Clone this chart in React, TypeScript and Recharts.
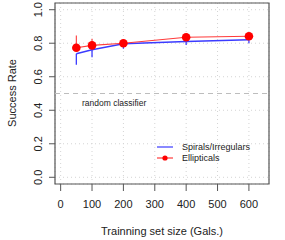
import React from 'react'
import {
  LineChart, Line, XAxis, YAxis, CartesianGrid, ErrorBar,
  ReferenceLine, ReferenceArea,
} from 'recharts'

// training set sizes (x) and success rates
const sizes = [50, 100, 200, 400, 600]
const spirals = [0.737, 0.761, 0.797, 0.81, 0.821]
const ellipticals = [0.773, 0.787, 0.8, 0.836, 0.842]
// error bars: blue shows below the line, red shows above the dots
const spiralsErrLow = [0.066, 0.044, 0.03, 0.02, 0.021]
const ellipticalsErrHigh = [0.073, 0.04, 0.025, 0.008, 0.006]

const xTicks = [0, 100, 200, 300, 400, 500, 600]
const yTicks = [0, 0.2, 0.4, 0.6, 0.8, 1.0]

const series = [
  { name: 'Spirals/Irregulars', color: '#3b3bff', dot: false },
  { name: 'Ellipticals', color: '#ff3b3b', dot: true },
]

const data = sizes.map((s, i) => ({
  size: s,
  spirals: spirals[i],
  ellipticals: ellipticals[i],
  spErr: [spiralsErrLow[i], 0],
  elErr: [0, ellipticalsErrHigh[i]],
}))

const FONT = '"Liberation Sans", Arial, Helvetica, sans-serif'
const INK = '#222'
const FRAME = '#555'

const XTick = ({ x, y, payload }: any) => (
  <text x={x} y={y + 17} textAnchor="middle" fontSize={11} fontFamily={FONT} fill={INK}>
    {payload.value}
  </text>
)

const YTick = ({ x, y, payload }: any) => (
  <text
    x={x - 11}
    y={y}
    transform={`rotate(-90, ${x - 11}, ${y})`}
    textAnchor="middle"
    dominantBaseline="central"
    fontSize={11}
    fontFamily={FONT}
    fill={INK}
  >
    {Number(payload.value).toFixed(1)}
  </text>
)

const YLabel = () => (
  <text
    x={12}
    y={93}
    transform="rotate(-90, 12, 93)"
    textAnchor="middle"
    dominantBaseline="central"
    fontSize={11}
    fontFamily={FONT}
    fill={INK}
  >
    Success Rate
  </text>
)

const RandomLabel = ({ viewBox }: any) => (
  <text
    x={(viewBox?.x ?? 55) + 27}
    y={(viewBox?.y ?? 93) + 9.5}
    dominantBaseline="central"
    fontSize={8.5}
    fontFamily={FONT}
    fill={INK}
  >
    random classifier
  </text>
)

export default function App() {
  return (
    <div style={{ position: 'absolute', left: 0, top: 0, width: 285, height: 240, background: '#fff' }}>
      <LineChart width={285} height={240} data={data} margin={{ top: 3, right: 16, bottom: 0, left: 0 }}>
        <CartesianGrid stroke="#d4d4d4" strokeDasharray="1 3" />
        <XAxis
          dataKey="size"
          type="number"
          domain={[-18, 664]}
          ticks={xTicks}
          height={56}
          axisLine={false}
          tickLine={{ stroke: FRAME }}
          tickSize={7}
          tickMargin={0}
          tick={<XTick />}
          label={{ value: 'Trainning set size (Gals.)', position: 'insideBottom', offset: 5, fontSize: 11, fontFamily: FONT, fill: INK }}
        />
        <YAxis
          type="number"
          domain={[-0.04, 1.04]}
          ticks={yTicks}
          width={55}
          axisLine={false}
          tickLine={{ stroke: FRAME }}
          tickSize={6}
          tickMargin={0}
          tick={<YTick />}
          label={<YLabel />}
        />
        <ReferenceArea x1={-18} x2={664} y1={-0.04} y2={1.04} fill="none" stroke={FRAME} strokeWidth={1.2} />
        <ReferenceLine y={0.5} stroke="#bdbdbd" strokeDasharray="5 4" label={<RandomLabel />} />
        <Line
          dataKey="spirals"
          stroke={series[0].color}
          strokeWidth={1.4}
          dot={false}
          isAnimationActive={false}
        >
          <ErrorBar dataKey="spErr" direction="y" width={0.01} stroke={series[0].color} strokeWidth={1.3} isAnimationActive={false} />
        </Line>
        <Line
          dataKey="ellipticals"
          stroke={series[1].color}
          strokeWidth={1.1}
          dot={{ r: 4.3, fill: '#ff0000', stroke: '#ff0000', strokeWidth: 0 }}
          isAnimationActive={false}
        >
          <ErrorBar dataKey="elErr" direction="y" width={0.01} stroke={series[1].color} strokeWidth={1.1} isAnimationActive={false} />
        </Line>
      </LineChart>

      {/* legend, bottom right inside the frame */}
      <div style={{ position: 'absolute', left: 156, top: 142, fontFamily: FONT, fontSize: 9, color: INK, lineHeight: '10.5px' }}>
        {series.map((s) => (
          <div key={s.name} style={{ display: 'flex', alignItems: 'center', height: 10.5 }}>
            <svg width={26} height={10} style={{ display: 'block' }}>
              <line x1={1} y1={5} x2={17} y2={5} stroke={s.color} strokeWidth={1.2} />
              {s.dot && <circle cx={9} cy={5} r={2.6} fill="#ff0000" />}
            </svg>
            <span>{s.name}</span>
          </div>
        ))}
      </div>
    </div>
  )
}
